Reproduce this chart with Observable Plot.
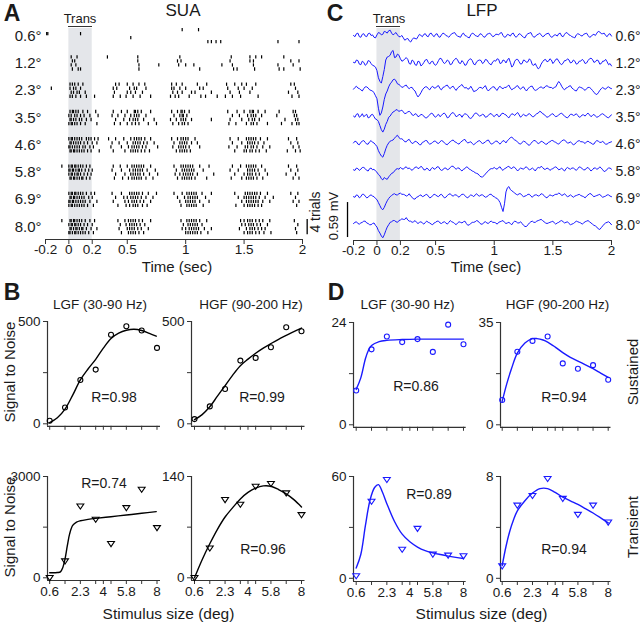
<!DOCTYPE html>
<html><head><meta charset="utf-8">
<script src="https://cdn.jsdelivr.net/npm/d3@7"></script>
<script src="https://cdn.jsdelivr.net/npm/@observablehq/plot@0.6"></script>
<style>
html,body{margin:0;padding:0;background:#fff;}
#fig{position:relative;width:640px;height:623px;overflow:hidden;font-family:"Liberation Sans",Arial,sans-serif;color:#1a1a1a;}
#fig svg{position:absolute;overflow:visible;}
.lbl{position:absolute;white-space:nowrap;line-height:1;}
</style></head><body><div id="fig"></div>
<script>
// ---------------- data ----------------
const sizes = [0.6, 1.2, 2.3, 3.5, 4.6, 5.8, 6.9, 8.0];
const sizeLabels = ["0.6°", "1.2°", "2.3°", "3.5°", "4.6°", "5.8°", "6.9°", "8.0°"];
const timeTicks = [-0.2, 0, 0.2, 0.5, 1, 1.5, 2];
const transWindow = [0, 0.2];
const sizeTickPos = [0, 1, 2, 3, 3.5, 4, 5, 6, 7];
const sizeTickText = ["0.6", "", "2.3", "", "4", "", "5.8", "", "8"];

// SUA raster: spike times (s) for 4 trials per stimulus size
const sua06 = [[0.97, 1.11], [-0.19, -0.18, 0.1], [0.53], [1.19, 1.22, 1.26, 1.30, 1.79, 1.97]];
const sua12 = [
  [0.02, 0.07, 0.33, 0.59, 0.95, 1.39, 1.55, 1.6, 1.65, 1.84],
  [0.03, 0.05, 0.59, 0.93, 0.96, 1.38, 1.55, 1.58, 1.9, 1.97],
  [0.02, 0.06, 0.6, 0.77, 0.94, 1.0, 1.07, 1.31, 1.4, 1.58, 1.79, 1.92],
  [0.03, 0.08, 0.1, 0.6, 1.12, 1.41, 1.44, 1.59, 1.8, 1.84, 1.98]];
const sua23 = [
  [0.01, 0.03, 0.05, 0.08, 0.12, 0.4, 0.43, 0.5, 0.55, 0.6, 0.65, 0.88, 0.92, 0.97, 1.1, 1.18, 1.35, 1.42, 1.48, 1.52, 1.6, 1.9, 1.93],
  [-0.15, 0.01, 0.04, 0.06, 0.1, 0.38, 0.41, 0.52, 0.56, 0.58, 0.66, 0.88, 0.9, 0.95, 1.0, 1.12, 1.15, 1.36, 1.45, 1.5, 1.57, 1.94],
  [0.02, 0.04, 0.07, 0.09, 0.14, 0.39, 0.5, 0.53, 0.57, 0.63, 0.89, 0.93, 0.97, 1.05, 1.08, 1.22, 1.38, 1.46, 1.55, 1.88, 1.96],
  [0.01, 0.03, 0.06, 0.1, 0.15, 0.22, 0.38, 0.44, 0.49, 0.55, 0.61, 0.7, 0.87, 0.91, 0.94, 1.03, 1.13, 1.17, 1.27, 1.34, 1.4, 1.47, 1.62, 1.91, 1.97]];
const sua35 = [
  [0.01, 0.03, 0.04, 0.06, 0.08, 0.12, 0.16, 0.23, 0.38, 0.45, 0.5, 0.56, 0.57, 0.59, 0.62, 0.7, 0.88, 0.93, 0.96, 0.97, 0.99, 1.03, 1.36, 1.44, 1.5, 1.55, 1.57, 1.58, 1.62, 1.68, 1.8, 1.92, 1.94],
  [0.0, 0.02, 0.05, 0.07, 0.1, 0.13, 0.18, 0.25, 0.37, 0.42, 0.48, 0.53, 0.56, 0.58, 0.6, 0.66, 0.9, 0.95, 0.97, 0.98, 1.01, 1.4, 1.46, 1.53, 1.56, 1.58, 1.6, 1.65, 1.78, 1.93, 1.95],
  [0.01, 0.02, 0.04, 0.06, 0.09, 0.11, 0.15, 0.19, 0.4, 0.47, 0.52, 0.55, 0.57, 0.59, 0.64, 0.73, 0.87, 0.92, 0.96, 0.98, 1.0, 1.05, 1.22, 1.38, 1.48, 1.54, 1.57, 1.59, 1.63, 1.85, 1.94, 1.96],
  [0.0, 0.02, 0.03, 0.05, 0.07, 0.1, 0.14, 0.24, 0.39, 0.44, 0.5, 0.54, 0.57, 0.6, 0.68, 0.75, 0.89, 0.94, 0.97, 0.99, 1.02, 1.37, 1.43, 1.52, 1.56, 1.58, 1.61, 1.7, 1.82, 1.91, 1.95, 1.97]];
const sua46 = [
  [0.0, 0.02, 0.03, 0.05, 0.07, 0.09, 0.11, 0.15, 0.17, 0.19, 0.22, 0.25, 0.34, 0.4, 0.47, 0.53, 0.56, 0.58, 0.6, 0.62, 0.65, 0.7, 0.88, 0.93, 0.96, 0.98, 1.0, 1.02, 1.08, 1.38, 1.45, 1.52, 1.54, 1.56, 1.58, 1.6, 1.64, 1.7, 1.88, 1.95],
  [0.01, 0.02, 0.04, 0.06, 0.08, 0.1, 0.13, 0.16, 0.2, 0.24, 0.37, 0.43, 0.5, 0.55, 0.57, 0.59, 0.61, 0.64, 0.67, 0.73, 0.9, 0.95, 0.97, 0.99, 1.01, 1.05, 1.1, 1.4, 1.48, 1.53, 1.55, 1.57, 1.59, 1.62, 1.67, 1.9, 1.96],
  [0.0, 0.01, 0.03, 0.05, 0.07, 0.09, 0.12, 0.14, 0.18, 0.21, 0.36, 0.45, 0.51, 0.54, 0.56, 0.58, 0.6, 0.63, 0.66, 0.76, 0.89, 0.94, 0.96, 0.98, 1.0, 1.03, 1.12, 1.37, 1.44, 1.51, 1.53, 1.56, 1.58, 1.61, 1.66, 1.72, 1.92, 1.97],
  [0.01, 0.02, 0.04, 0.05, 0.07, 0.09, 0.11, 0.13, 0.16, 0.19, 0.26, 0.38, 0.48, 0.53, 0.55, 0.57, 0.59, 0.62, 0.65, 0.69, 0.92, 0.95, 0.97, 0.99, 1.01, 1.04, 1.42, 1.5, 1.52, 1.55, 1.57, 1.6, 1.63, 1.69, 1.87, 1.94, 1.98]];
const sua58 = [
  [-0.06, 0.0, 0.02, 0.03, 0.05, 0.06, 0.08, 0.1, 0.12, 0.15, 0.18, 0.38, 0.44, 0.5, 0.54, 0.56, 0.58, 0.6, 0.62, 0.64, 0.7, 0.9, 0.96, 0.98, 1.0, 1.02, 1.04, 1.06, 1.12, 1.2, 1.4, 1.47, 1.52, 1.54, 1.56, 1.58, 1.6, 1.65, 1.88, 1.95],
  [0.0, 0.01, 0.03, 0.04, 0.06, 0.08, 0.09, 0.11, 0.14, 0.17, 0.2, 0.37, 0.45, 0.52, 0.55, 0.57, 0.59, 0.61, 0.63, 0.67, 0.74, 0.92, 0.97, 0.99, 1.01, 1.03, 1.05, 1.07, 1.15, 1.38, 1.45, 1.53, 1.55, 1.57, 1.59, 1.62, 1.68, 1.9, 1.96],
  [0.0, 0.02, 0.03, 0.05, 0.07, 0.08, 0.1, 0.13, 0.16, 0.19, 0.4, 0.48, 0.53, 0.55, 0.57, 0.59, 0.61, 0.64, 0.69, 0.76, 0.91, 0.95, 0.98, 1.0, 1.02, 1.04, 1.06, 1.1, 1.24, 1.42, 1.5, 1.53, 1.55, 1.57, 1.6, 1.63, 1.7, 1.86, 1.94],
  [0.01, 0.02, 0.04, 0.05, 0.07, 0.09, 0.11, 0.12, 0.15, 0.18, 0.39, 0.46, 0.51, 0.54, 0.56, 0.58, 0.6, 0.62, 0.66, 0.72, 0.93, 0.97, 0.99, 1.01, 1.03, 1.05, 1.08, 1.18, 1.39, 1.48, 1.52, 1.54, 1.56, 1.58, 1.61, 1.66, 1.92, 1.97]];
const sua69 = [
  [0.0, 0.02, 0.03, 0.05, 0.06, 0.08, 0.1, 0.12, 0.15, 0.19, 0.22, 0.37, 0.45, 0.52, 0.54, 0.56, 0.58, 0.6, 0.63, 0.68, 0.75, 0.9, 0.97, 1.01, 1.03, 1.05, 1.07, 1.09, 1.14, 1.22, 1.42, 1.51, 1.53, 1.55, 1.57, 1.59, 1.61, 1.64, 1.7, 1.9, 1.96],
  [0.01, 0.02, 0.04, 0.05, 0.07, 0.09, 0.11, 0.13, 0.17, 0.2, 0.4, 0.47, 0.5, 0.53, 0.55, 0.57, 0.59, 0.62, 0.66, 0.72, 0.93, 0.99, 1.02, 1.04, 1.06, 1.08, 1.1, 1.17, 1.45, 1.5, 1.52, 1.54, 1.56, 1.58, 1.6, 1.63, 1.68, 1.75, 1.94],
  [0.0, 0.01, 0.03, 0.04, 0.06, 0.08, 0.1, 0.12, 0.14, 0.18, 0.24, 0.38, 0.48, 0.51, 0.54, 0.56, 0.58, 0.61, 0.64, 0.7, 0.95, 1.0, 1.02, 1.04, 1.06, 1.08, 1.12, 1.2, 1.48, 1.52, 1.54, 1.56, 1.58, 1.6, 1.62, 1.66, 1.72, 1.92, 1.97],
  [0.0, 0.02, 0.03, 0.05, 0.07, 0.09, 0.11, 0.13, 0.16, 0.21, 0.42, 0.49, 0.52, 0.55, 0.57, 0.59, 0.63, 0.67, 0.96, 1.01, 1.03, 1.05, 1.07, 1.09, 1.15, 1.43, 1.5, 1.53, 1.55, 1.57, 1.59, 1.62, 1.65, 1.95]];
const sua80 = [
  [-0.06, 0.01, 0.02, 0.04, 0.05, 0.07, 0.09, 0.11, 0.14, 0.18, 0.22, 0.42, 0.48, 0.51, 0.53, 0.55, 0.57, 0.6, 0.63, 0.7, 0.96, 1.01, 1.03, 1.05, 1.07, 1.09, 1.12, 1.18, 1.47, 1.5, 1.53, 1.55, 1.57, 1.6, 1.63, 1.66, 1.72, 1.93],
  [0.0, 0.02, 0.03, 0.05, 0.06, 0.08, 0.1, 0.13, 0.16, 0.2, 0.44, 0.49, 0.52, 0.54, 0.56, 0.58, 0.61, 0.65, 0.98, 1.02, 1.04, 1.06, 1.08, 1.1, 1.14, 1.48, 1.51, 1.54, 1.56, 1.58, 1.61, 1.64, 1.7, 1.96],
  [0.01, 0.02, 0.04, 0.06, 0.07, 0.09, 0.11, 0.12, 0.15, 0.19, 0.24, 0.43, 0.5, 0.52, 0.54, 0.56, 0.59, 0.62, 0.68, 0.97, 1.0, 1.03, 1.05, 1.07, 1.09, 1.11, 1.16, 1.22, 1.46, 1.52, 1.55, 1.57, 1.59, 1.62, 1.65, 1.68, 1.94],
  [0.0, 0.01, 0.03, 0.05, 0.06, 0.08, 0.1, 0.12, 0.14, 0.17, 0.21, 0.45, 0.51, 0.53, 0.55, 0.57, 0.6, 0.64, 1.0, 1.02, 1.04, 1.06, 1.08, 1.1, 1.13, 1.19, 1.5, 1.53, 1.55, 1.57, 1.6, 1.63, 1.67, 1.73, 1.95]];

// LFP traces, units of 0.01 mV: samples every 25 ms from -0.2 s, plus the samples half-way between them
const lfpStart = -0.2, lfpStep = 0.025;
const lfp06 = [0,3,-2,2,-1,3,0,-3, 1,4,2,6,8,4,3,1,-2, -4,-6,-9,-7,-5,-2,0,2,-1,3,0, 2,-2,1,3,-1,0,4,1,-2,2,0,-3,1,3,-1,2,0,-2,3,1, -1,2,4,0,-2,1,3,-1,0,2,-3,1,4,0,-2,2,1,-1,3,0, -2,1,3,-1,2,4,0,-3,1,2,-1,3,0,-2,2,4,6,3,0,2,-1];
const lfp06mid = [-2,4,-3,3,-2,4,1,-4, 5,1,7,4,9,1,5,-2, 0,-8,-5,-11,-4,-6,2,-2, 3,-2,4,-2,3,-3,4,0, -3,3,5,-1,-3,4,-1,-4, 4,0,-2,3,-3,2,4,-2, 2,1,5,-3,2,-1,4,-3, 3,-1,-4,3,5,-3,1,4, -2,2,4,-3,1,-1,4,-2, 5,1,-2,-4,3,0,2,4, -3,1,0,7,3,4,-2,3];
const lfp12 = [0,4,-3,2,-5,3,-2,-6, -14,-32,-24,4,10,18,8,14,6, 3,8,-2,4,-4,2,-6,0,5,-3,2, -5,3,6,-2,4,-4,2,7,-1,3,-5,2,6,-3,1,4,-2,5,0,-4, 3,6,-2,4,-1,7,-8,2,5,-3,4,0,6,-4,-2,-11,-3,4,1,6, -2,5,2,-4,3,6,-1,4,-3,2,5,-2,3,7,0,4,-3,2,5,-4,-6];
const lfp12mid = [-1,3,-4,0,-3,2,-5,-8, -26,-35,-12,9,12,20,9,12, 2,6,5,-3,2,-5,1,-4, 4,0,1,-3,-2,7,1,0, 2,-3,5,4,-2,0,-4,5, 3,-4,3,3,0,4,-3,1, 2,5,-1,3,4,0,-5,5, 1,-2,3,1,3,-5,-7,-9, 1,5,2,4,1,6,-2,-1, 3,4,0,2,-2,2,3,-1, 6,5,1,3,-2,2,1,-2];
const lfp23 = [0,5,1,-3,4,2,-2,-6, -16,-44,-30,-8,4,12,17,9,6, 4,7,1,3,-3,-13,-6,2,4,-1,5, 2,6,-1,4,7,1,5,-2,4,8,2,0,5,-4,-2,3,1,6,-3,2, 4,-2,5,1,3,7,-1,2,6,0,4,-3,3,5,-2,1,4,2,6,3, 1,4,13,5,-1,3,6,0,-3,4,2,-2,3,1,-5,-9,-2,3,0,4,1];
const lfp23mid = [3,2,-1,1,4,-1,-3,-11, -32,-40,-17,-3,9,16,14,8, 3,6,3,3,-1,-9,-10,-1, 4,1,3,2,5,1,3,6, 3,4,1,2,6,4,3,1, 1,-3,1,3,4,0,0,4, 0,3,2,3,5,2,1,5, 2,3,0,1,5,0,-1,3, 2,5,4,3,3,9,10,1, 2,5,2,-2,1,3,0,1, 3,-2,-8,-6,1,1,3,2];
const lfp35 = [0,3,-2,4,1,-3,2,-1, -6,-16,-27,-14,-2,4,8,10,9, 7,5,8,2,4,-1,3,0,-3,2,4, -2,3,1,5,-3,2,6,-1,3,-2,4,1,-4,2,5,0,3,-2,1,4, -1,3,0,5,2,-3,4,1,6,-2,3,0,4,-1,2,5,7,3,-2,1, 4,-1,2,5,0,-3,3,1,4,-2,2,0,5,-1,3,-2,1,4,0,-3,2];
const lfp35mid = [-2,4,0,-1,3,-2,3,-5, -9,-23,-22,-9,0,7,11,8, 10,4,7,6,1,3,0,2, -3,0,5,0,1,-1,4,2, -2,5,3,0,2,2,3,-3, -2,5,2,1,2,-1,4,1, 2,-1,4,3,-1,1,3,4, 2,1,1,3,2,-1,4,8, 4,0,-1,3,1,0,4,2, -2,0,3,2,1,-1,2,3, 2,1,0,-1,3,2,-2,0];
const lfp46 = [0,2,-3,3,1,-2,4,0, -6,-18,-24,-10,0,4,8,13,7, 5,2,6,-1,3,0,-3,2,4,-2,1, 3,-1,4,0,-3,2,5,1,-2,3,6,0,2,-3,1,4,-1,2,5,-2, 1,3,-2,4,0,6,10,5,1,-2,3,0,-4,2,4,-1,3,0,-2,2, 4,1,-2,3,5,0,2,-3,1,4,2,-1,3,0,-2,4,1,3,-2,0,2];
const lfp46mid = [3,-2,1,4,-2,2,1,-3, -13,-22,-18,-4,3,5,11,9, 7,2,5,2,0,2,-3,1, 4,0,-1,3,0,2,3,-2, 0,4,2,-1,1,5,2,1, -1,-1,3,1,0,4,1,-1, 3,0,1,3,4,9,7,4, -1,1,2,-3,-1,4,1,0, 2,-2,1,4,2,-1,1,5, 2,0,-1,-2,3,2,1,2, 1,-2,2,3,1,0,-2,1];
const lfp58 = [0,3,-1,4,2,-2,3,1, -4,-10,-17,-15,-12,-6,-2,2,4, 1,5,3,-1,4,2,6,0,3,-2,4, 2,5,-1,3,0,4,6,1,3,-2,2,4,0,-3,-6,-10,-12,-7,-2,2, 4,1,5,-1,3,6,2,4,-2,3,1,5,0,3,-2,4,6,1,3,-1, 2,5,0,3,-2,4,1,3,-1,5,2,0,4,-2,3,1,5,0,-2,3,1];
const lfp58mid = [-1,2,1,4,-1,2,0,-2, -8,-15,-13,-16,-9,-5,1,1, 2,4,2,1,2,5,3,4, 0,1,2,1,5,1,0,3, 1,6,3,3,0,1,5,1, -2,-5,-7,-12,-10,-4,1,2, 2,4,1,2,5,3,5,1, 1,2,4,2,1,1,2,3, 4,1,2,1,4,3,1,0, 2,2,3,1,2,4,0,3, 1,0,3,2,3,-3,1,3];
const lfp69 = [0,3,-2,4,1,-1,3,0, -5,-15,-22,-12,-3,2,5,3,6, 4,1,5,-1,-4,0,3,1,4,-2,2, 3,0,4,-2,2,5,1,3,-1,4,2,-2,3,0,5,1,3,-1,2,4, 0,-3,-10,-25,8,17,10,6,3,5,0,2,4,-1,3,1,5,2,-2,3, 1,4,6,2,5,0,3,-1,2,4,1,-2,3,5,0,2,4,-1,1,3,0];
const lfp69mid = [-1,2,0,4,-2,2,1,-3, -10,-20,-18,-7,0,4,3,5, 4,3,2,1,-4,-1,2,0, 3,1,-1,4,1,3,1,-1, 4,2,3,1,2,4,-1,1, 2,3,2,3,1,0,4,1, -2,-6,-18,-12,15,12,8,4, 5,2,1,4,1,2,3,2, 4,-1,1,2,3,4,5,3, 2,1,1,1,3,2,0,1, 5,2,1,3,1,0,3,1];
const lfp80 = [0,3,-1,2,4,0,-2,1, -6,-16,-24,-12,-2,3,5,2,6, 7,10,4,2,5,0,3,-1,4,1,-2, 2,4,0,3,-1,5,2,-2,3,1,4,-3,0,2,5,1,-1,3,0,4, 2,-1,3,5,0,2,-2,4,1,3,-3,-5,1,4,2,5,7,3,0,2, 4,-1,2,5,1,3,-2,0,4,2,-1,3,5,1,-3,-6,-10,-4,1,3,-2];
const lfp80mid = [2,0,1,4,1,-2,0,-3, -12,-21,-19,-6,2,5,3,5, 8,7,6,4,3,2,2,1, 2,2,-1,1,4,1,2,1, 2,3,0,1,2,3,0,-2, 2,3,4,-1,2,1,3,2, 1,2,4,2,1,0,2,3, 1,0,-5,-2,3,2,4,6, 5,1,1,3,1,1,4,3, 2,0,-1,2,3,1,1,4, 3,-1,-4,-9,-7,-1,2,1];
const mvScaleBar = 0.59;   // mV
const trialsScaleBar = 4;  // trials

// Signal-to-noise vs stimulus size (index 0..7 = sizes)
const snrSuaLgfSus = [15, 80, 214, 265, 435, 477, 456, 371];
const fitSuaLgfSus = [[0,6],[0.5,30],[1,72],[1.5,140],[2,215],[2.5,268],[3,315],[3.5,370],[4,417],[4.5,443],[5,457],[5.5,462],[6,456],[6.5,442],[6.95,428]];
const snrSuaHgfSus = [23, 85, 170, 309, 322, 374, 472, 452];
const fitSuaHgfSus = [[0,20],[0.5,45],[1,83],[1.5,135],[2,186],[2.5,238],[3,284],[3.5,316],[4,345],[4.5,370],[5,392],[5.5,413],[6,432],[6.5,451],[7,468]];
const snrSuaLgfTr = [0, 494, 2120, 1726, 1007, 2072, 2615, 1480];
const fitSuaLgfTr = [[0,150],[0.5,155],[0.7,175],[0.85,300],[1,560],[1.15,950],[1.3,1300],[1.5,1550],[1.75,1650],[2,1690],[2.5,1730],[3,1760],[4,1810],[5,1860],[6,1910],[6.95,1960]];
const snrSuaHgfTr = [0, 40.9, 107.8, 101.3, 126.2, 130, 117, 87];
const fitSuaHgfTr = [[0,0],[0.5,25],[1,47],[1.5,67],[2,84],[2.5,97],[3,109],[3.5,118],[4,124],[4.5,127],[5,126.5],[5.5,122],[6,116],[6.5,108],[7,98]];
const snrLfpLgfSus = [8.05, 17.7, 20.7, 19.4, 20.1, 17.1, 23.5, 18.9];
const fitLfpLgfSus = [[0,8.3],[0.3,11],[0.6,15.5],[0.8,17.5],[1,18.6],[1.5,19.5],[2,19.8],[3,20.0],[4,20.1],[5,20.1],[6,20.1],[7,20.1]];
const snrLfpHgfSus = [8.5, 25.0, 28.7, 30.2, 21.0, 19.2, 20.4, 15.4];
const fitLfpHgfSus = [[0,8],[0.3,14],[0.6,19],[1,24.5],[1.5,28],[2,29.5],[2.3,29.5],[2.7,29],[3,28.3],[3.5,26.6],[4,24.7],[4.5,23.1],[5,21.8],[5.5,20.5],[6,19.2],[6.5,17.7],[7,16.2]];
const snrLfpLgfTr = [1.35, 45.3, 58.1, 17.0, 29.3, 14.1, 13.5, 13.1];
const fitLfpLgfTr = [[0,6],[0.3,14],[0.6,31],[0.9,46],[1.2,53.5],[1.45,55.2],[1.7,51],[2,44],[2.5,33.5],[3,26],[3.5,21.5],[4,18.4],[4.5,16.3],[5,15],[5.5,14],[6,13.1],[6.5,12.3],[7,11.7]];
const snrLfpHgfTr = [0.96, 5.73, 6.49, 7.82, 6.26, 5.0, 5.73, 4.4];
const fitLfpHgfTr = [[0,1.0],[0.25,2.5],[0.5,3.7],[0.75,4.6],[1,5.3],[1.5,6.1],[2,6.7],[2.5,7.05],[3,7.05],[3.5,6.75],[4,6.38],[4.5,6.08],[5,5.8],[5.5,5.47],[6,5.13],[6.5,4.75],[7,4.35]];

// ---------------- drawing ----------------
const fig = document.getElementById("fig");
const FONT = '"Liberation Sans", Arial, sans-serif';
const INK = "#1a1a1a", AXIS = "#333", BLUE = "#1a1aff", SHADE = "#e4e6ea";
const baseStyle = {fontFamily: FONT, fontSize: "14px", color: INK, background: "transparent", overflow: "visible"};

function place(svg, left, top) { svg.style.left = left + "px"; svg.style.top = top + "px"; fig.append(svg); }
function label(text, x, y, {size = 14, bold = false, rotate = false} = {}) {
  const d = document.createElement("div");
  d.className = "lbl"; d.textContent = text;
  d.style.left = x + "px"; d.style.top = y + "px"; d.style.fontSize = size + "px";
  if (bold) d.style.fontWeight = "bold";
  d.style.transform = "translate(-50%,-50%)" + (rotate ? " rotate(-90deg)" : "");
  fig.append(d);
}
function hline(x1, x2, y) {
  const d = document.createElement("div");
  d.style.cssText = `position:absolute;left:${x1}px;top:${y}px;width:${x2 - x1}px;height:0;border-top:1px solid ${AXIS};`;
  fig.append(d);
}

// Panel A: SUA raster
const suaRows = [sua06, sua12, sua23, sua35, sua46, sua58, sua69, sua80];
const ROWU = 7, TRU = 1.03, TICKU = 0.85;
const spikes = suaRows.flatMap((trials, row) => trials.flatMap((ts, trial) => ts.map(t => ({t, row, trial}))));
const yMaxA = 7 * ROWU + 3 * TRU + TICKU + 1.2;
const plotA = Plot.plot({
  width: 320, height: 270, marginLeft: 45, marginRight: 18, marginTop: 28, marginBottom: 31,
  style: baseStyle,
  x: {domain: [-0.2, 2]},
  y: {domain: [0, yMaxA], reverse: true, axis: null},
  marks: [
    Plot.rect([transWindow], {x1: d => d[0], x2: d => d[1], fill: SHADE}),
    Plot.ruleX(spikes, {x: "t", y1: d => d.row * ROWU + d.trial * TRU, y2: d => d.row * ROWU + d.trial * TRU + TICKU, stroke: "black", strokeWidth: 1.2}),
    Plot.ruleY([yMaxA], {stroke: AXIS, strokeWidth: 1.2}),
    Plot.axisX({ticks: timeTicks, tickFormat: d => String(d), tickSize: 5, tickPadding: 0, fontSize: 13.5, label: null, stroke: AXIS}),
    Plot.text(sizeLabels, {x: -0.2, y: (d, i) => i * ROWU + 1.9, text: d => d, textAnchor: "end", dx: -4, fontSize: 15, fill: INK}),
    Plot.ruleX([2.04], {y1: 7 * ROWU, y2: 7 * ROWU + (trialsScaleBar - 1) * TRU + TICKU, stroke: "black", strokeWidth: 1.3})
  ]
});
place(plotA, 0, 0);

// Panel C: LFP traces
const lfpRows = [[lfp06, lfp06mid], [lfp12, lfp12mid], [lfp23, lfp23mid], [lfp35, lfp35mid], [lfp46, lfp46mid], [lfp58, lfp58mid], [lfp69, lfp69mid], [lfp80, lfp80mid]];
const ROWMV = 0.453;
const lfpData = lfpRows.flatMap(([vals, mids], row) => vals.flatMap((v, k) => {
  const pts = [{t: lfpStart + k * lfpStep, y: v / 100 - row * ROWMV, row}];
  if (k < mids.length) pts.push({t: lfpStart + (k + 0.5) * lfpStep, y: mids[k] / 100 - row * ROWMV, row});
  return pts;
}));
const yDomC = [-3.457, 0.118];
const barBottom = -7 * ROWMV - 0.236;
const plotC = Plot.plot({
  width: 320, height: 270, marginLeft: 33, marginRight: 29, marginTop: 28, marginBottom: 30,
  style: baseStyle,
  x: {domain: [-0.2, 2]},
  y: {domain: yDomC, axis: null},
  marks: [
    Plot.rect([transWindow], {x1: d => d[0], x2: d => d[1], fill: SHADE}),
    Plot.line(lfpData, {x: "t", y: "y", z: "row", stroke: BLUE, strokeWidth: 1}),
    Plot.ruleY([yDomC[0]], {stroke: AXIS, strokeWidth: 1.2}),
    Plot.axisX({ticks: timeTicks, tickFormat: d => String(d), tickSize: 5, tickPadding: 0, fontSize: 13.5, label: null, stroke: AXIS}),
    Plot.text(sizeLabels, {x: 2, y: (d, i) => -i * ROWMV - 0.025, text: d => d, textAnchor: "start", dx: 4, fontSize: 14, fill: INK}),
    Plot.ruleX([-0.251], {y1: barBottom, y2: barBottom + mvScaleBar, stroke: "black", strokeWidth: 1.3})
  ]
});
place(plotC, 320, 0);

// Trans underlines from the scale
const xa = plotA.scale("x"), xc = plotC.scale("x");
hline(xa.apply(transWindow[0]), xa.apply(transWindow[1]), 26);
hline(320 + xc.apply(transWindow[0]), 320 + xc.apply(transWindow[1]), 26);

// Panels B & D: tuning curves
const triangleDown = {draw(ctx, size) {
  const r = Math.sqrt(size / Math.PI);
  const w = r * 1.15, h1 = r * 0.75, h2 = r * 0.95;
  ctx.moveTo(-w, -h1); ctx.lineTo(w, -h1); ctx.lineTo(0, h2); ctx.closePath();
}};
function tuning(c) {
  const ml = 40, mr = 8, mt = 8, mb = 28;
  const unit = (c.i7X - c.i0X) / 7;
  const xDom = [-(c.i0X - c.yAxisX) / unit, 7 + (c.xEndX - c.i7X) / unit];
  const pxPer = (c.zeroPx - c.yTopPx) / c.yMax;
  const yDom = [-(c.axisPx - c.zeroPx) / pxPer, c.yMax];
  const width = ml + (c.xEndX - c.yAxisX) + mr, height = mt + (c.axisPx - c.yTopPx) + mb;
  const svg = Plot.plot({
    width, height, marginLeft: ml, marginRight: mr, marginTop: mt, marginBottom: mb,
    style: {...baseStyle, fontSize: "13px"},
    x: {domain: xDom}, y: {domain: yDom},
    marks: [
      Plot.ruleX([xDom[0]], {stroke: AXIS, strokeWidth: 1.2}),
      Plot.ruleY([yDom[0]], {stroke: AXIS, strokeWidth: 1.2}),
      Plot.axisY({ticks: [0, c.yMax / 2, c.yMax], tickFormat: d => d === c.yMax / 2 ? "" : String(d), tickSize: 4, tickPadding: 3, label: null, stroke: AXIS, fontSize: 13.5}),
      Plot.axisX({ticks: sizeTickPos, tickFormat: d => c.labels ? sizeTickText[sizeTickPos.indexOf(d)] : "", tickSize: 4, tickPadding: 2, label: null, stroke: AXIS, fontSize: 13.5}),
      Plot.line(c.fit, {x: d => d[0], y: d => d[1], stroke: c.color, strokeWidth: 1.4, curve: "catmull-rom"}),
      Plot.dot(c.points, {x: (d, i) => i, y: d => d, symbol: c.symbol, r: c.symbol === "circle" ? 2.5 : 3, stroke: c.color, strokeWidth: 1.1, fill: "none"})
    ]
  });
  place(svg, c.yAxisX - ml, c.yTopPx - mt);
}
const topB = {yTopPx: 320.7, zeroPx: 423, axisPx: 425.5};
const botB = {yTopPx: 476, zeroPx: 577.3, axisPx: 580};
const topD = {yTopPx: 321.7, zeroPx: 424, axisPx: 426.5};
const botD = {yTopPx: 475.5, zeroPx: 577.3, axisPx: 580.5};
const colL = {yAxisX: 47, i0X: 49.2, i7X: 156.5, xEndX: 160};
const colR = {yAxisX: 190.5, i0X: 193.5, i7X: 300.5, xEndX: 304};
const colDL = {yAxisX: 353.3, i0X: 356, i7X: 463.3, xEndX: 466};
const colDR = {yAxisX: 500, i0X: 501.7, i7X: 607.7, xEndX: 610.5};
tuning({...colL, ...topB, yMax: 500, points: snrSuaLgfSus, fit: fitSuaLgfSus, symbol: "circle", color: "black", labels: false});
tuning({...colR, ...topB, yMax: 500, points: snrSuaHgfSus, fit: fitSuaHgfSus, symbol: "circle", color: "black", labels: false});
tuning({...colL, ...botB, yMax: 3000, points: snrSuaLgfTr, fit: fitSuaLgfTr, symbol: triangleDown, color: "black", labels: true});
tuning({...colR, ...botB, yMax: 140, points: snrSuaHgfTr, fit: fitSuaHgfTr, symbol: triangleDown, color: "black", labels: true});
tuning({...colDL, ...topD, yMax: 24, points: snrLfpLgfSus, fit: fitLfpLgfSus, symbol: "circle", color: BLUE, labels: false});
tuning({...colDR, ...topD, yMax: 35, points: snrLfpHgfSus, fit: fitLfpHgfSus, symbol: "circle", color: BLUE, labels: false});
tuning({...colDL, ...botD, yMax: 60, points: snrLfpLgfTr, fit: fitLfpLgfTr, symbol: triangleDown, color: BLUE, labels: true});
tuning({...colDR, ...botD, yMax: 8, points: snrLfpHgfTr, fit: fitLfpHgfTr, symbol: triangleDown, color: BLUE, labels: true});

// ---------------- annotations ----------------
label("A", 12, 13, {size: 23, bold: true});
label("C", 335, 13, {size: 23, bold: true});
label("B", 12, 292, {size: 23, bold: true});
label("D", 336, 292, {size: 23, bold: true});
label("SUA", 183, 10, {size: 17});
label("LFP", 482, 10, {size: 17});
label("Trans", 80, 17.5, {size: 13});
label("Trans", 389, 17.5, {size: 13});
label("Time (sec)", 177, 265.5, {size: 15});
label("Time (sec)", 486, 266, {size: 15});
label("4 trials", 315, 212, {size: 14, rotate: true});
label("0.59 mV", 333, 216, {size: 13, rotate: true});
label("LGF (30-90 Hz)", 100, 304.5, {size: 13.5});
label("HGF (90-200 Hz)", 251, 304.5, {size: 13.5});
label("LGF (30-90 Hz)", 407.5, 304.5, {size: 13.5});
label("HGF (90-200 Hz)", 557.5, 304.5, {size: 13.5});
label("Signal to Noise", 9, 372, {size: 15, rotate: true});
label("Signal to Noise", 9, 527, {size: 15, rotate: true});
label("Sustained", 632, 372, {size: 15, rotate: true});
label("Transient", 632, 527, {size: 15, rotate: true});
label("Stimulus size (deg)", 168.5, 614, {size: 15.5});
label("Stimulus size (deg)", 481.5, 614, {size: 15.5});
label("R=0.98", 114, 396.5, {size: 14});
label("R=0.99", 262, 396.5, {size: 14});
label("R=0.74", 104, 482.5, {size: 14});
label("R=0.96", 263, 549, {size: 14});
label("R=0.86", 416, 385.5, {size: 14});
label("R=0.94", 564, 397, {size: 14});
label("R=0.89", 429, 493.5, {size: 14});
label("R=0.94", 564, 549, {size: 14});
</script></body></html>
